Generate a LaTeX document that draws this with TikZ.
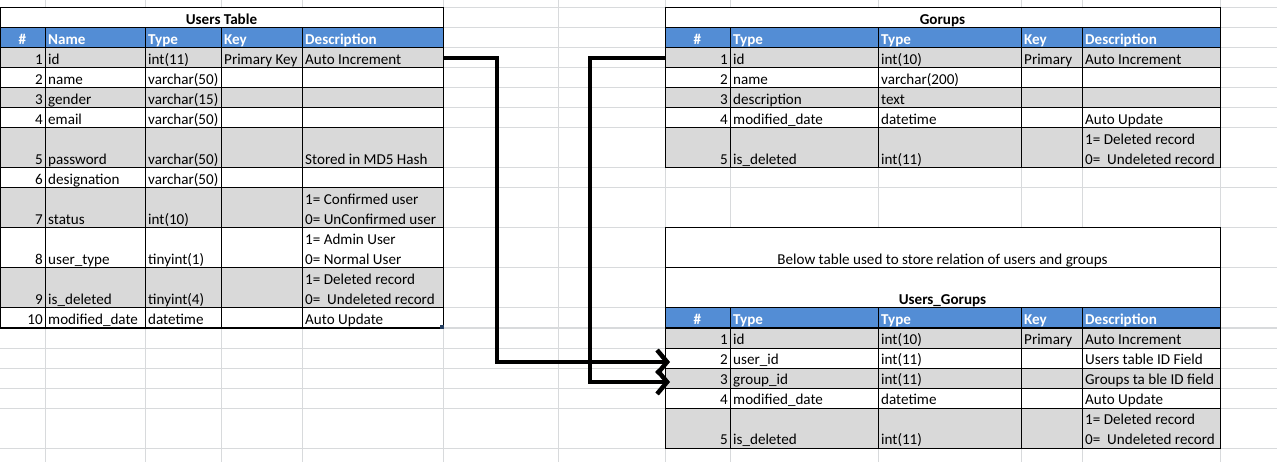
\documentclass[tikz,border=0pt]{standalone}
\usepackage{fontspec}
\setmainfont{Carlito}
\usetikzlibrary{arrows.meta,positioning}

\definecolor{hdrblue}{RGB}{83,141,213}
\definecolor{rowgray}{RGB}{217,217,217}
\definecolor{gridgray}{RGB}{216,218,220}

\tikzset{
  gridline/.style={draw=gridgray,line width=1pt},
  border/.style={draw=black,line width=1pt},
  rowbox/.style={anchor=north west,inner sep=0pt,outer sep=0pt,draw=none},
  txt/.style={anchor=base west,inner sep=0pt,font=\fontsize{15.1}{17}\selectfont},
  num/.style={txt,anchor=base east},
  hdr/.style={txt,text=white,font=\fontsize{15.1}{17}\selectfont\bfseries},
  ttl/.style={txt,anchor=base,font=\fontsize{15.1}{17}\selectfont\bfseries},
  link/.style={line width=4.5pt,-{Straight Barb[length=10pt,width=24pt]}},
}

\begin{document}
\begin{tikzpicture}[x=1pt,y=-1pt]
\fill[white] (0,0) rectangle (1277,462);
\useasboundingbox (0,0) rectangle (1277,462);

% sheet grid
\foreach \y in {8,28,48,68,88,108,128,168,188,228,268,308,328,348,368,388,408,448}
  \draw[gridline] (0,\y) -- (1277,\y);
\foreach \x in {45,145,221,302,443,558,665,730,878,1021,1082,1220}
  \draw[gridline] (\x,0) -- (\x,462);

% Users Table
\fill[white] (0,8) rectangle (443,28);
\fill[hdrblue] (0,28) rectangle (443,48);
\node[ttl] (users) at (221.5,24.5) {Users Table};
\node[hdr,anchor=base] (uh0) at (22.5,44.5) {\#};
\foreach \x/\s [count=\i] in {48/Name,148/Type,224/Key,305/Description}
  \node[hdr] (uh\i) at (\x,44.5) {\s};
\foreach \n/\ya/\yb/\col/\nm/\ty/\ky/\da/\db in {
  1/48/68/rowgray/id/int(11)/Primary Key//Auto Increment,
  2/68/88/white/name/varchar(50)///,
  3/88/108/rowgray/gender/varchar(15)///,
  4/108/128/white/email/varchar(50)///,
  5/128/168/rowgray/password/varchar(50)///Stored in MD5 Hash,
  6/168/188/white/designation/varchar(50)///,
  7/188/228/rowgray/status/int(10)//1= Confirmed user/0= UnConfirmed user,
  8/228/268/white/user\_type/tinyint(1)//1= Admin User/0= Normal User,
  9/268/308/rowgray/is\_deleted/tinyint(4)//1= Deleted record/0=\ \ Undeleted record,
  10/308/328/white/modified\_date/datetime///Auto Update}
{
  \pgfmathsetmacro\h{\yb-\ya}
  \node[rowbox,fill=\col,minimum width=443pt,minimum height=\h pt] (u\n) at (0,\ya) {};
  \node[num] (un\n) at (43,\yb-3.5) {\n};
  \node[txt] (unm\n) at (48,\yb-3.5) {\nm};
  \node[txt] (uty\n) at (148,\yb-3.5) {\ty};
  \node[txt] (uk\n) at (224,\yb-3.5) {\ky};
  \node[txt] (uda\n) at (305,\yb-23.5) {\da};
  \node[txt] (udb\n) at (305,\yb-3.5) {\db};
}
\draw[border] (0,8) rectangle (443,328);
\foreach \y in {28,48,68,88,108,128,168,188,228,268,308}
  \draw[border] (0,\y) -- (443,\y);
\foreach \x in {45,145,221,302}
  \draw[border] (\x,28) -- (\x,328);
\fill[hdrblue!45!black] (440,325) rectangle (444,329);

% Gorups
\fill[white] (665,8) rectangle (1220,28);
\fill[hdrblue] (665,28) rectangle (1220,48);
\node[ttl] (groups) at (942.5,24.5) {Gorups};
\node[hdr,anchor=base] (gh0) at (697.5,44.5) {\#};
\foreach \x/\s [count=\i] in {733/Type,881/Type,1024/Key,1085/Description}
  \node[hdr] (gh\i) at (\x,44.5) {\s};
\foreach \n/\ya/\yb/\col/\nm/\ty/\ky/\da/\db in {
  1/48/68/rowgray/id/int(10)/Primary//Auto Increment,
  2/68/88/white/name/varchar(200)///,
  3/88/108/rowgray/description/text///,
  4/108/128/white/modified\_date/datetime///Auto Update,
  5/128/168/rowgray/is\_deleted/int(11)//1= Deleted record/0=\ \ Undeleted record}
{
  \pgfmathsetmacro\h{\yb-\ya}
  \node[rowbox,fill=\col,minimum width=555pt,minimum height=\h pt] (g\n) at (665,\ya) {};
  \node[num] (gn\n) at (728,\yb-3.5) {\n};
  \node[txt] (gnm\n) at (733,\yb-3.5) {\nm};
  \node[txt] (gty\n) at (881,\yb-3.5) {\ty};
  \node[txt] (gk\n) at (1024,\yb-3.5) {\ky};
  \node[txt] (gda\n) at (1085,\yb-23.5) {\da};
  \node[txt] (gdb\n) at (1085,\yb-3.5) {\db};
}
\draw[border] (665,8) rectangle (1220,168);
\foreach \y in {28,48,68,88,108,128}
  \draw[border] (665,\y) -- (1220,\y);
\foreach \x in {730,878,1021,1082}
  \draw[border] (\x,28) -- (\x,168);

% Users_Gorups
\fill[white] (665,228) rectangle (1220,308);
\fill[hdrblue] (665,308) rectangle (1220,328);
\node[txt,anchor=base] (note) at (942.5,264.5) {Below table used to store relation of users and groups};
\node[ttl] (usergroups) at (942.5,304.5) {Users\_Gorups};
\node[hdr,anchor=base] (ugh0) at (697.5,324.5) {\#};
\foreach \x/\s [count=\i] in {733/Type,881/Type,1024/Key,1085/Description}
  \node[hdr] (ugh\i) at (\x,324.5) {\s};
\foreach \n/\ya/\yb/\col/\nm/\ty/\ky/\da/\db in {
  1/328/348/rowgray/id/int(10)/Primary//Auto Increment,
  2/348/368/white/user\_id/int(11)///Users table ID Field,
  3/368/388/rowgray/group\_id/int(11)///Groups ta ble ID field,
  4/388/408/white/modified\_date/datetime///Auto Update,
  5/408/448/rowgray/is\_deleted/int(11)//1= Deleted record/0=\ \ Undeleted record}
{
  \pgfmathsetmacro\h{\yb-\ya}
  \node[rowbox,fill=\col,minimum width=555pt,minimum height=\h pt] (ug\n) at (665,\ya) {};
  \node[num] (ugn\n) at (728,\yb-3.5) {\n};
  \node[txt] (ugnm\n) at (733,\yb-3.5) {\nm};
  \node[txt] (ugty\n) at (881,\yb-3.5) {\ty};
  \node[txt] (ugk\n) at (1024,\yb-3.5) {\ky};
  \node[txt] (ugda\n) at (1085,\yb-23.5) {\da};
  \node[txt] (ugdb\n) at (1085,\yb-3.5) {\db};
}
\draw[border] (665,228) rectangle (1220,448);
\foreach \y in {268,308,328,348,368,388,408}
  \draw[border] (665,\y) -- (1220,\y);
\foreach \x in {730,878,1021,1082}
  \draw[border] (\x,308) -- (\x,448);

% links
\draw[link] (u1.east) -- ++(54,0) |- ([xshift=5pt,yshift=-4pt]ug2.west);
\draw[link] (g1.west) -- ++(-75,0) |- ([xshift=5pt,yshift=-4pt]ug3.west);

\end{tikzpicture}
\end{document}
